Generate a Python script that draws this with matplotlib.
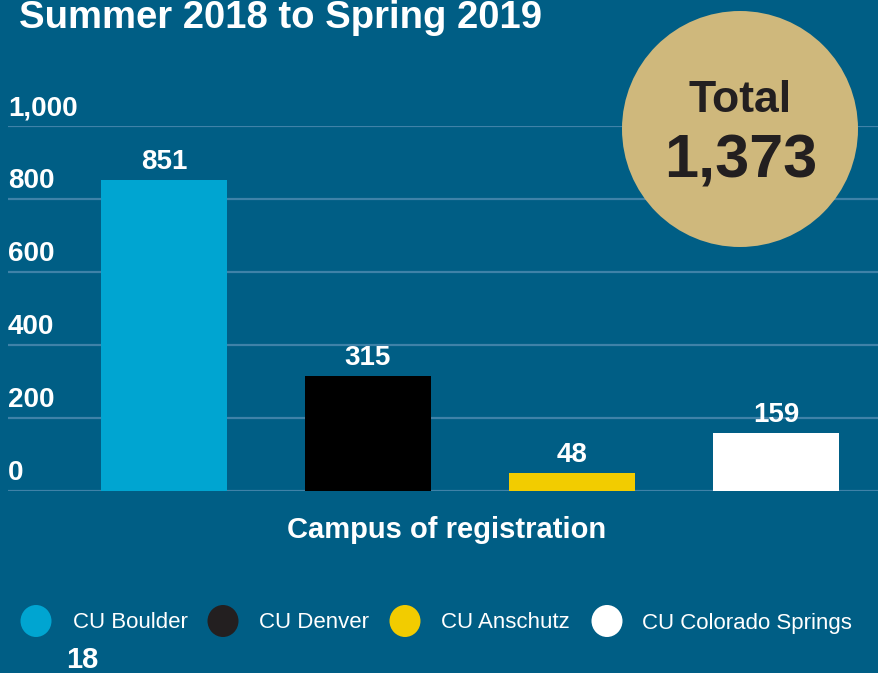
import matplotlib
matplotlib.use("Agg")
import matplotlib.pyplot as plt
from matplotlib.patches import Ellipse

plt.rcParams['font.family'] = ['Liberation Sans', 'DejaVu Sans']

campuses = ["CU Boulder", "CU Denver", "CU Anschutz", "CU Colorado Springs"]
counts = [851, 315, 48, 159]
colors = ["#00a5d1", "#000000", "#f2cc00", "#ffffff"]
legend_colors = ["#00a5d1", "#231f20", "#f2cc00", "#ffffff"]
yticks = [0, 200, 400, 600, 800, 1000]
ytick_labels = ["0", "200", "400", "600", "800", "1,000"]
total = sum(counts)

bg = "#005e85"
W, H = 879, 673
fig = plt.figure(figsize=(W / 100, H / 100), dpi=100, facecolor=bg)

def fx(px):
    return px / W

def fy(py):
    return 1 - py / H

ax = fig.add_axes([fx(8), fy(491), fx(871), (491 - 126) / H])
ax.set_facecolor(bg)
x = list(range(len(campuses)))
ax.bar(x, counts, width=0.618, color=colors, zorder=3)
ax.set_xlim(-0.765, 3.505)
ax.set_ylim(0, 1000)
for s in ax.spines.values():
    s.set_visible(False)
ax.set_xticks([])
ax.set_yticks(yticks)
ax.tick_params(axis='y', length=0, labelleft=False)
ax.yaxis.grid(True, color="#3f82a8", linewidth=1.6, zorder=1)
ax.set_axisbelow(True)
ax.margins(0)

for yv, lab in zip(yticks, ytick_labels):
    ax.annotate(lab, xy=(0, yv), xycoords=('axes fraction', 'data'),
                xytext=(0, 11), textcoords='offset pixels',
                ha='left', va='baseline', color='white',
                fontsize=20, fontweight='bold', clip_on=False)

for xi, c in zip(x, counts):
    ax.annotate(str(c), xy=(xi, c), xytext=(0, 11), textcoords='offset pixels',
                ha='center', va='baseline', color='white',
                fontsize=20, fontweight='bold')

fig.text(fx(19), fy(28), "Summer 2018 to Spring 2019", ha='left', va='baseline',
         color='white', fontsize=27.5, fontweight='bold')

fig.text(fx(447), fy(538), "Campus of registration", ha='center', va='baseline',
         color='white', fontsize=21, fontweight='bold')

# total circle
fig.add_artist(Ellipse((fx(740), fy(129)), 236 / W, 236 / H,
                       transform=fig.transFigure, facecolor="#cfb87c",
                       edgecolor='none', zorder=5))
fig.text(fx(740), fy(112), "Total", ha='center', va='baseline',
         color="#231f20", fontsize=32, fontweight='bold', zorder=6)
fig.text(fx(741), fy(178), f"{total:,}", ha='center', va='baseline',
         color="#231f20", fontsize=44, fontweight='bold', zorder=6)

# legend
marker_x = [36, 223, 405, 607]
text_x = [73, 259, 441, 642]
for mx, tx, name, col in zip(marker_x, text_x, campuses, legend_colors):
    fig.add_artist(Ellipse((fx(mx), fy(621)), 31 / W, 32 / H,
                           transform=fig.transFigure, facecolor=col,
                           edgecolor='none'))
    fig.text(fx(tx), fy(623), name, ha='left', va='center',
             color='white', fontsize=16)

fig.text(fx(66), fy(668), "18", ha='left', va='baseline',
         color='white', fontsize=21, fontweight='bold')

fig.savefig("out.png", dpi=100, facecolor=bg)
